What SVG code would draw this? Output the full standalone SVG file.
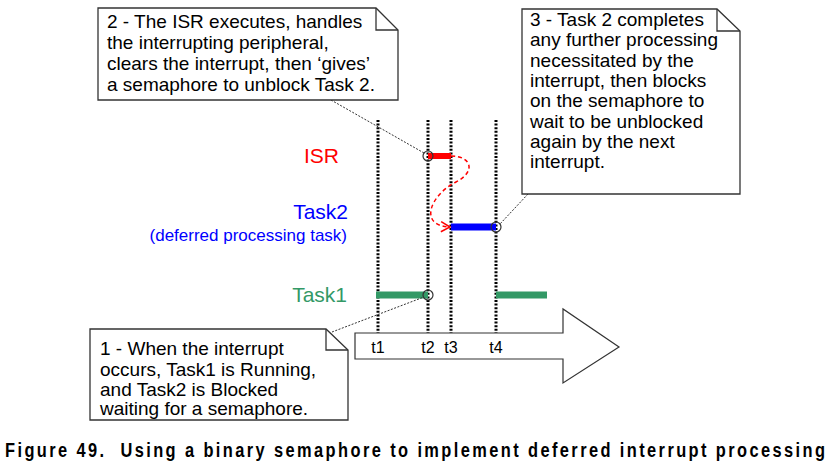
<svg xmlns="http://www.w3.org/2000/svg" width="830" height="475" viewBox="0 0 830 475">
<style>
text{font-family:"Liberation Sans",Arial,sans-serif}
.note{fill:#fff;stroke:#333;stroke-width:1.3}
.fold{fill:none;stroke:#333;stroke-width:1.3}
.nt{font-size:19px;fill:#000}
.vl{stroke:#000;stroke-width:3;stroke-dasharray:2 1.6;fill:none}
.call{stroke:#333;stroke-width:1;stroke-dasharray:2 1.5;fill:none}
.circ{fill:none;stroke:#333;stroke-width:1.2}
.tl{font-size:16px;fill:#000;text-anchor:middle}
.lab{font-size:21px;text-anchor:end}
</style>
<defs>
<marker id="ah" markerWidth="12" markerHeight="12" refX="10" refY="6" orient="auto" markerUnits="userSpaceOnUse">
<path d="M1,1 L10,6 L1,11" fill="none" stroke="#f00" stroke-width="1.5"/>
</marker>
</defs>
<rect width="830" height="475" fill="#fff"/>

<g id="timeline">
<polygon points="355,333 563,333 563,309 619,347 563,383 563,359 355,359" fill="#fff" stroke="#333" stroke-width="1.2"/>
<text class="tl" x="378" y="353">t1</text>
<text class="tl" x="428" y="353">t2</text>
<text class="tl" x="451" y="353">t3</text>
<text class="tl" x="496" y="353">t4</text>
</g>

<g id="vlines">
<line class="vl" x1="378" y1="120" x2="378" y2="333"/>
<line class="vl" x1="428" y1="120" x2="428" y2="333"/>
<line class="vl" x1="451" y1="120" x2="451" y2="333"/>
<line class="vl" x1="496" y1="120" x2="496" y2="333"/>
</g>

<g id="labels">
<text class="lab" x="339" y="163" fill="#f00">ISR</text>
<text class="lab" x="348" y="219" fill="#00f">Task2</text>
<text x="347" y="241" fill="#00f" font-size="17" text-anchor="end">(deferred processing task)</text>
<text class="lab" x="347" y="302" fill="#339966">Task1</text>
</g>

<g id="bars">
<line x1="428" y1="156" x2="451" y2="156" stroke="#f00" stroke-width="6"/>
<line x1="451" y1="227" x2="496" y2="227" stroke="#00f" stroke-width="7"/>
<line x1="376" y1="295" x2="428" y2="295" stroke="#339966" stroke-width="7"/>
<line x1="496" y1="295" x2="547" y2="295" stroke="#339966" stroke-width="7"/>
<circle class="circ" cx="428" cy="156" r="5"/>
<circle class="circ" cx="496" cy="227" r="5"/>
<circle class="circ" cx="428" cy="295" r="5"/>
</g>

<g id="connectors">
<path d="M451,156 C472,156 476,172 456,182 C430,195 418,226 450,227" fill="none" stroke="#f00" stroke-width="1.5" stroke-dasharray="4 3" marker-end="url(#ah)"/>
<line class="call" x1="331" y1="100" x2="424" y2="153"/>
<line class="call" x1="528" y1="194" x2="500" y2="224"/>
<line class="call" x1="332" y1="332" x2="424" y2="297"/>
</g>

<g id="note2">
<polygon class="note" points="98,8 376,8 398,30 398,100 98,100"/>
<polyline class="fold" points="376,8 376,30 398,30"/>
<text class="nt" x="107" y="28">2 - The ISR executes, handles</text>
<text class="nt" x="107" y="49">the interrupting peripheral,</text>
<text class="nt" x="107" y="70">clears the interrupt, then ‘gives’</text>
<text class="nt" x="107" y="91">a semaphore to unblock Task 2.</text>
</g>

<g id="note3">
<polygon class="note" points="522,9 717,9 740,31 740,194 522,194"/>
<polyline class="fold" points="717,9 717,31 740,31"/>
<text class="nt" x="530" y="26">3 - Task 2 completes</text>
<text class="nt" x="530" y="46.3">any further processing</text>
<text class="nt" x="530" y="66.6">necessitated by the</text>
<text class="nt" x="530" y="86.9">interrupt, then blocks</text>
<text class="nt" x="530" y="107.2">on the semaphore to</text>
<text class="nt" x="530" y="127.5">wait to be unblocked</text>
<text class="nt" x="530" y="147.8">again by the next</text>
<text class="nt" x="530" y="168.1">interrupt.</text>
</g>

<g id="note1">
<polygon class="note" points="90,329 326,329 348,350 348,420 90,420"/>
<polyline class="fold" points="326,329 326,350 348,350"/>
<text class="nt" x="100" y="355">1 - When the interrupt</text>
<text class="nt" x="100" y="375.5">occurs, Task1 is Running,</text>
<text class="nt" x="100" y="395.5">and Task2 is Blocked</text>
<text class="nt" x="100" y="415">waiting for a semaphore.</text>
</g>

<text transform="translate(5,457) scale(0.8,1)" x="0" y="0" font-size="20.5" font-weight="bold" textLength="1025" lengthAdjust="spacing" fill="#000" xml:space="preserve">Figure 49.  Using a binary semaphore to implement deferred interrupt processing</text>
</svg>
